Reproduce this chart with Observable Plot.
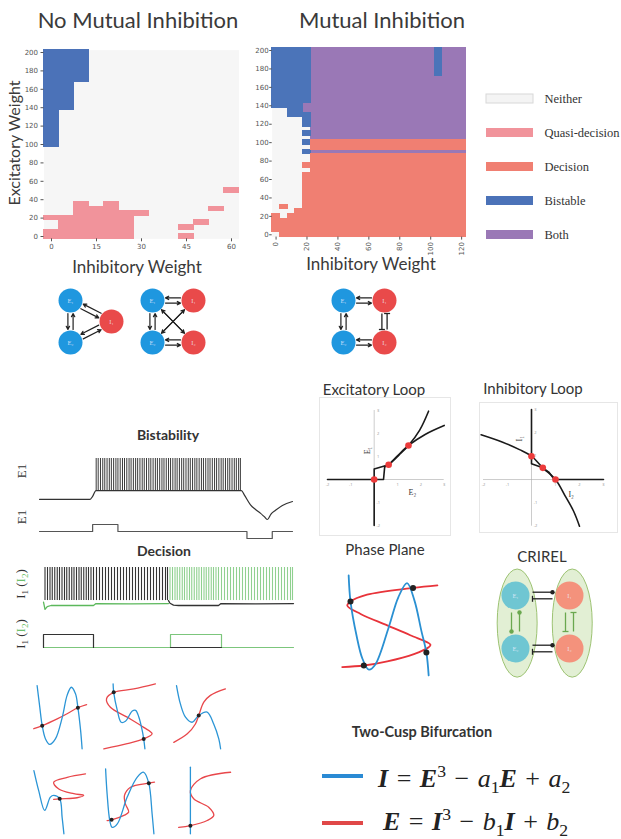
<!DOCTYPE html>
<html><head><meta charset="utf-8">
<script src="https://cdn.jsdelivr.net/npm/d3@7"></script>
<script src="https://cdn.jsdelivr.net/npm/@observablehq/plot@0.6"></script>
<style>
body{margin:0;background:#fff;}
#root{position:relative;width:621px;height:839px;overflow:hidden;font-family:Lato,"Open Sans",sans-serif;color:#333;}
.t{position:absolute;white-space:nowrap;line-height:1;transform:translate(-50%,-50%);}
.t.rot{transform:translate(-50%,-50%) rotate(-90deg);}
.t.l{transform:translate(0,-50%);}
.eq{font-family:"Liberation Serif",serif;color:#222;}
.eq sup,.eq sub{font-size:0.68em;line-height:0;}
</style></head><body><div id="root"></div>
<script>
// ---------------- DATA ----------------
// heatmaps: runs are [colFrom, colTo, rowFrom, rowTo] (weights, step 5)
const excitTicks = [0,20,40,60,80,100,120,140,160,180,200];
const inhibTicksNoMI = [0,15,30,45,60];
const inhibTicksMI = [0,20,40,60,80,100,120];
const noMI_bistable = [[0,0,100,200],[5,5,140,200],[10,10,170,200]];
const noMI_quasi = [[0,0,0,5],[0,0,20,20],[5,5,0,20],[10,10,0,35],[15,15,0,30],[20,20,0,35],[25,25,0,25],[30,30,25,25],[45,45,0,0],[45,45,10,10],[50,50,15,15],[55,55,30,30],[60,60,50,50]];
const MI_both = [[25,120,105,200],[25,120,90,90],[20,20,135,140]];
const MI_bistable = [[0,0,140,200],[5,5,140,200],[10,15,130,200],[20,20,145,200],[20,20,120,130],[20,20,110,110],[20,20,100,100],[20,20,90,90],[105,105,175,200]];
const MI_decision = [[25,120,0,85],[25,120,95,100],[20,20,0,65],[20,20,75,75],[15,15,0,25],[10,10,0,20],[5,5,0,15],[5,5,30,30],[0,0,5,20]];
const legendNames = ["Neither","Quasi-decision","Decision","Bistable","Both"];
const legendFills = ["#f4f4f4","#f1939b","#f07f72","#4b72b8","#9a78b6"];

// network schematics: [id, gridX, gridY, kind]
const net1Nodes = [["E1",0,0,"E"],["E2",0,1,"E"],["I1",1,0.5,"I"]];
const net1Edges = [["E1","E2",2.6,"arrow"],["E2","E1",2.6,"arrow"],["E1","I1",2.6,"arrow"],["I1","E1",2.6,"arrow"],["E2","I1",2.6,"arrow"],["I1","E2",2.6,"arrow"]];
const net2Nodes = [["E1",0,0,"E"],["I1",1,0,"I"],["E2",0,1,"E"],["I2",1,1,"I"]];
const net2Edges = [["E1","E2",2.6,"arrow"],["E2","E1",2.6,"arrow"],["E1","I1",2.6,"arrow"],["I1","E1",2.6,"arrow"],["E2","I2",2.6,"arrow"],["I2","E2",2.6,"arrow"],["E1","I2",0,"arrow"],["I2","E1",0,"arrow"],["E2","I1",0,"arrow"],["I1","E2",0,"arrow"]];
const net3Nodes = [["E1",0,0,"E"],["I1",1,0,"I"],["E2",0,1,"E"],["I2",1,1,"I"]];
const net3Edges = [["E1","E2",2.6,"arrow"],["E2","E1",2.6,"arrow"],["E1","I1",2.6,"arrow"],["I1","E1",2.6,"arrow"],["E2","I2",2.6,"arrow"],["I2","E2",2.6,"arrow"],["I1","I2",2.6,"bar"],["I2","I1",2.6,"bar"]];
const crirelNodes = [["E1",0,0,"E"],["I1",1,0,"I"],["E2",0,1,"E"],["I2",1,1,"I"]];
const crirelEdges = [["E1","I1",-3.3,"dot"],["I1","E1",-3.3,"bar"],["E2","I2",-3.3,"dot"],["I2","E2",-3.3,"bar"],["E1","E2",4,"dot","#6aa84f"],["E2","E1",4,"dot","#6aa84f"],["I1","I2",4,"bar","#6aa84f"],["I2","I1",4,"bar","#6aa84f"]];
const crirelEllipses = [[-0.33,0.41,-0.49,1.55],[0.69,1.43,-0.49,1.55]];

// Bistability traces (time 0-100, arbitrary voltage units)
const bistTraceT = [0,20,21,22.3,79.8,81,83.4,85.5,87.4,89,90.1,91.5,93.3,96,100];
const bistTraceV = [33,33,38,47.5,47.5,40,24,16,10,4,0,9,15,23,29.5];
const bistSpikes = [22.4,23.2,24.1,25.0,25.8,26.7,27.6,28.4,29.3,30.2,31.0,31.9,32.8,33.6,34.5,35.4,36.2,37.1,38.0,38.8,39.7,40.6,41.4,42.3,43.2,44.0,44.9,45.8,46.6,47.5,48.4,49.2,50.1,51.0,51.8,52.7,53.6,54.4,55.3,56.2,57.0,57.9,58.8,59.6,60.5,61.4,62.2,63.1,64.0,64.8,65.7,66.6,67.4,68.3,69.2,70.0,70.9,71.8,72.6,73.5,74.4,75.2,76.1,77.0,77.8,78.7,79.4];
const bistStimT = [0,21,31,82,92,100];
const bistStimV = [0,1,0,-1,0,0];

// Decision traces
const decBlackSpikes = [0.6,1.6,2.6,3.5,4.5,5.5,6.4,7.4,8.4,9.3,10.3,11.3,12.2,13.2,14.2,15.1,16.1,17.1,18.0,19.0,20.0,21.2,22.4,23.6,24.8,26.0,27.2,28.4,29.6,30.8,32.0,33.2,34.4,35.6,36.8,38.0,39.2,40.4,41.6,42.8,44.0,45.2,46.4,47.6,48.8,49.6];
const decGreenSpikes = [50.6,51.6,52.6,53.5,54.5,55.5,56.4,57.4,58.4,59.3,60.3,61.3,62.2,63.2,64.2,65.1,66.1,67.1,68.0,69.0,70.0,71.2,72.4,73.6,74.8,76.0,77.2,78.4,79.6,80.8,82.0,83.2,84.4,85.6,86.8,88.0,89.2,90.4,91.6,92.8,94.0,95.2,96.4,97.6,98.8,99.6];
const greenLowT = [0,0.6,1.5,3,20,21,35,50];
const greenLowV = [9,-10,-3,0,0,5,4.5,5];
const blackLowT = [50,50.6,52,54,70,71,85,100];
const blackLowV = [13,6,1,0,0,5,4.5,5];
const decStimBlackT = [0,0,20,20];
const decStimBlackV = [0,1,1,0];
const decStimBlackBaseT = [50.8,71.2];
const decStimGreenT = [0,50.8,50.8,71.2,71.2,100];
const decStimGreenV = [0,0,1,1,0,0];

// Loop phase portraits
const loopTicks = [-2,-1,1,2,3];
const exLoopA1 = [[-2,0],[0,0],[0,0.46],[0.62,0.64]];
const exLoopA2 = [[0.62,0.64],[1.05,1.05],[1.47,1.48],[1.95,2.15],[2.33,2.97]];
const exLoopB1 = [[0,-2],[0,0],[0.4,0],[0.45,0.55]];
const exLoopB2 = [[0.45,0.55],[0.62,0.64],[1.0,1.03],[1.47,1.48],[2.2,1.97],[3,2.35]];
const exDots = [[0,0],[0.62,0.64],[1.47,1.48]];
const inLoopA = [[-2.1,1.92],[-1.2,1.6],[-0.5,1.28],[0,1],[0.47,0.5],[1,0],[1.4,-0.7],[1.75,-1.35],[2.0,-2.0]];
const inLoopB = [[0,3],[0,0.68],[0.47,0.5],[0.72,0.32],[0.95,0],[3,0]];
const inDots = [[0,1],[0.47,0.5],[1,0]];

// Phase plane
const ppBlue = [[-0.91,1.01],[-0.87,0.51],[-0.74,-0.14],[-0.61,-0.59],[-0.47,-0.80],[-0.33,-0.70],[-0.04,0.01],[0.17,0.59],[0.36,0.86],[0.52,0.53],[0.67,-0.05],[0.78,-0.47],[0.83,-0.91]];
const ppRed = [[-1.05,-0.75],[-0.58,-0.72],[-0.07,-0.64],[0.51,-0.50],[0.83,-0.37],[0.87,-0.32],[0.43,-0.14],[-0.07,0.05],[-0.65,0.27],[-0.94,0.43],[-0.87,0.51],[-0.51,0.64],[0.49,0.77],[1.02,0.82]];
const ppDots = [[-0.87,0.51],[0.49,0.77],[0.78,-0.47],[-0.58,-0.72]];

// Two-cusp nullcline panels
const nc1Blue = [[-0.78,0.94],[-0.69,0.30],[-0.61,-0.24],[-0.50,-0.63],[-0.36,-0.79],[-0.17,-0.63],[0.06,0.01],[0.22,0.65],[0.36,0.89],[0.50,0.70],[0.58,0.29],[0.67,-0.38],[0.72,-0.92]];
const nc1Red = [[-0.89,-0.33],[-0.61,-0.24],[-0.11,-0.04],[0.22,0.11],[0.58,0.29],[0.87,0.38]];
const nc1Dots = [[-0.61,-0.24],[0.58,0.29]];
const nc2Blue = [[-0.58,0.99],[-0.56,0.74],[-0.44,0.21],[-0.31,-0.14],[-0.17,-0.11],[0.06,0.19],[0.17,0.21],[0.28,0.01],[0.39,-0.38],[0.44,-0.63],[0.48,-0.92]];
const nc2Red = [[0.83,0.99],[0.11,0.84],[-0.56,0.74],[-0.80,0.55],[-0.67,0.30],[-0.11,0.01],[0.44,-0.29],[0.72,-0.48],[0.44,-0.63],[-0.11,-0.77],[-0.89,-0.92]];
const nc2Dots = [[-0.56,0.74],[0.44,-0.63]];
const nc3Blue = [[-0.80,0.94],[-0.67,0.40],[-0.50,0.01],[-0.28,-0.14],[-0.06,0.06],[0.22,0.16],[0.44,-0.19],[0.61,-0.63],[0.67,-0.92]];
const nc3Red = [[-0.89,-0.73],[-0.44,-0.48],[-0.17,-0.19],[-0.06,0.06],[0.11,0.45],[0.33,0.65],[0.83,0.84]];
const nc3Dots = [[-0.06,0.06]];
const nc4Blue = [[-0.82,0.91],[-0.66,0.32],[-0.46,-0.26],[-0.27,0.13],[-0.16,0.18],[0.04,0.08],[0.12,-0.46],[0.18,-0.95]];
const nc4Red = [[0.90,0.81],[0.29,0.71],[-0.16,0.57],[0.01,0.37],[0.51,0.23],[0.84,0.18],[0.62,0.11],[0.04,0.08],[-0.16,0.06]];
const nc4Dots = [[0.04,0.08]];
const nc5Blue = [[-0.83,0.96],[-0.78,0.23],[-0.69,-0.56],[-0.61,-0.76],[-0.44,-0.66],[-0.11,0.13],[0.22,0.71],[0.44,0.86],[0.61,0.54],[0.72,-0.36],[0.78,-0.95]];
const nc5Red = [[-0.78,-0.56],[-0.63,-0.54],[-0.22,-0.41],[-0.06,-0.31],[-0.17,-0.07],[-0.2,0.18],[0,0.42],[0.61,0.54],[0.8,0.57]];
const nc5Dots = [[-0.63,-0.54],[0.61,0.54]];
const nc6Blue = [[-0.27,1.01],[-0.27,-0.95]];
const nc6Red = [[-0.66,-0.76],[-0.27,-0.71],[0.29,-0.56],[0.51,-0.41],[0.34,-0.17],[-0.16,0.08],[-0.27,0.32],[0.07,0.67],[1.07,0.86]];
const nc6Dots = [[-0.27,-0.71]];

// ---------------- HELPERS ----------------
const root = document.getElementById("root");
const BASE = {background: "transparent", overflow: "visible"};
function put(opts, left, top) {
  const svg = Plot.plot({...opts, style: {...BASE, ...(opts.style || {})}});
  svg.style.position = "absolute"; svg.style.left = left + "px"; svg.style.top = top + "px";
  root.appendChild(svg);
  return svg;
}
function txt(html, x, y, css = {}, cls = "") {
  const d = document.createElement("div");
  d.className = "t " + cls; d.innerHTML = html;
  d.style.left = x + "px"; d.style.top = y + "px";
  Object.assign(d.style, css);
  root.appendChild(d);
}
const px = d => d[0], py = d => d[1];

// ---------------- HEATMAPS ----------------
function heatmap(layers, xDomain, xTicks, o) {
  return {
    width: o.w, height: o.h, marginLeft: o.ml, marginRight: o.mr, marginTop: o.mt, marginBottom: o.mb,
    x: {domain: xDomain}, y: {domain: [-2.5, 202.5]},
    style: {fontFamily: "DejaVu Sans, sans-serif", color: "#555"},
    marks: [
      Plot.frame({fill: "#f6f6f6", stroke: null}),
      ...layers.map(([runs, fill]) => Plot.rect(runs, {x1: d => d[0] - 2.5, x2: d => d[1] + 2.5, y1: d => d[2] - 2.5, y2: d => d[3] + 2.5, fill, stroke: fill, strokeWidth: 1, shapeRendering: "crispEdges"})),
      Plot.axisY({ticks: excitTicks, tickSize: o.yts, tickPadding: o.ytp, fontSize: 7, label: null}),
      Plot.axisX({ticks: xTicks, tickSize: 3, tickPadding: 2, fontSize: 7, label: null, tickRotate: o.rot || 0})
    ]
  };
}
put(heatmap([[noMI_quasi, "#f1939b"], [noMI_bistable, "#4b72b8"]], [-2.5, 62.5], inhibTicksNoMI,
  {w: 245, h: 250, ml: 43.5, mr: 6.5, mt: 9.7, mb: 51.7, yts: 3, ytp: 3}), 0, 40);
put(heatmap([[MI_both, "#9a78b6"], [MI_bistable, "#4b74b9"], [MI_decision, "#f07f72"]], [-2.5, 122.5], inhibTicksMI,
  {w: 225, h: 250, ml: 26.7, mr: 5, mt: 7.7, mb: 53.4, yts: 2.5, ytp: 1, rot: -90}), 245, 40);

txt("No Mutual Inhibition", 138, 20, {fontSize: "22px", color: "#3a3a3a"});
txt("Mutual Inhibition", 382, 20, {fontSize: "22px", color: "#3a3a3a"});
txt("Excitatory Weight", 14, 143, {fontSize: "16px", color: "#3a3a3a"}, "rot");
txt("Inhibitory Weight", 137, 266, {fontSize: "17px", color: "#3a3a3a"});
txt("Inhibitory Weight", 371, 263, {fontSize: "17px", color: "#3a3a3a"});

// legend
put({
  width: 141, height: 170, marginLeft: 6, marginRight: 88, marginTop: 11.5, marginBottom: 9.5,
  x: {domain: [0, 1], axis: null},
  y: {type: "band", domain: legendNames, paddingInner: 0.74, paddingOuter: 0, axis: null},
  color: {domain: legendNames, range: legendFills},
  marks: [
    Plot.barX(legendNames, {x1: 0, x2: 1, y: d => d, fill: d => d, stroke: d => d === "Neither" ? "#d8d8d8" : "none"}),
    Plot.text(legendNames, {x: 1, y: d => d, dx: 11, text: d => d, textAnchor: "start", fontFamily: "Liberation Serif, serif", fontSize: 12.5, fill: "#333"})
  ]
}, 480, 80);

// ---------------- NETWORK DIAGRAMS ----------------
function network(nodes, edges, c) {
  const P = Object.fromEntries(nodes.map(n => [n[0], n]));
  const marks = [];
  for (const [a, b, off, type, color] of edges) {
    const A = P[a], B = P[b];
    const qx = (B[1] - A[1]) * c.ux, qy = (B[2] - A[2]) * c.uy, L = Math.hypot(qx, qy);
    const dx = -qy / L * off, dy = qx / L * off;
    const stroke = color || "#222";
    if (type === "arrow") {
      marks.push(Plot.arrow([[A, B]], {x1: d => d[0][1], y1: d => d[0][2], x2: d => d[1][1], y2: d => d[1][2], dx, dy, stroke, strokeWidth: 1.2, headLength: 4.5, headAngle: 55, insetStart: c.inset, insetEnd: c.inset}));
    } else {
      const fx = B[1] - A[1], fy = B[2] - A[2], t0 = c.inset / L, t1 = 1 - c.inset / L;
      const s = [A[1] + fx * t0, A[2] + fy * t0], e = [A[1] + fx * t1, A[2] + fy * t1];
      marks.push(Plot.link([[s, e]], {x1: d => d[0][0], y1: d => d[0][1], x2: d => d[1][0], y2: d => d[1][1], dx, dy, stroke, strokeWidth: 1.3}));
      if (type === "dot") marks.push(Plot.dot([e], {x: px, y: py, dx, dy, r: 2.2, fill: stroke}));
      else {
        const bx = -qy / L * 3 / c.ux, by = qx / L * 3 / c.uy;
        marks.push(Plot.link([e], {x1: d => d[0] - bx, y1: d => d[1] - by, x2: d => d[0] + bx, y2: d => d[1] + by, dx, dy, stroke, strokeWidth: 1.3}));
      }
    }
  }
  const sub = id => id[0] + (id[1] === "1" ? "\u2081" : "\u2082");
  marks.push(Plot.dot(nodes.filter(n => n[3] === "E"), {x: d => d[1], y: d => d[2], r: c.r, fill: c.eFill}));
  marks.push(Plot.dot(nodes.filter(n => n[3] === "I"), {x: d => d[1], y: d => d[2], r: c.r, fill: c.iFill}));
  marks.push(Plot.text(nodes, {x: d => d[1], y: d => d[2], text: d => sub(d[0]), fill: "#eef", fillOpacity: 0.8, fontSize: 6.5, fontFamily: "Liberation Serif, serif"}));
  return {
    width: c.w, height: c.h, margin: 0,
    x: {domain: [0, 1], range: c.xr, axis: null}, y: {domain: [0, 1], range: c.yr, axis: null},
    marks: [...(c.pre || []), ...marks]
  };
}
const netCfg = {ux: 41, uy: 42, xr: [18, 59], yr: [17, 59], w: 75, h: 80, r: 12, inset: 13, eFill: "#1f97df", iFill: "#e94a4a"};
put(network(net1Nodes, net1Edges, netCfg), 52, 283);
put(network(net2Nodes, net2Edges, netCfg), 134, 283);
put(network(net3Nodes, net3Edges, netCfg), 325, 283);

// ---------------- TRACES ----------------
txt("Bistability", 168, 435, {fontSize: "14px", fontWeight: "bold", color: "#333"});
txt("E1", 21, 471, {fontSize: "13px", fontFamily: "Liberation Serif, serif", color: "#333"}, "rot");
txt("E1", 21, 517, {fontSize: "13px", fontFamily: "Liberation Serif, serif", color: "#333"}, "rot");
put({
  width: 260, height: 72, marginLeft: 3, marginRight: 4, marginTop: 6, marginBottom: 5,
  x: {domain: [0, 100], axis: null}, y: {domain: [0, 100], axis: null},
  marks: [
    Plot.ruleX(bistSpikes, {x: d => d, y1: 47.5, y2: 100, stroke: "#3a3a3a", strokeWidth: 1}),
    Plot.line(bistTraceT, {x: d => d, y: (d, i) => bistTraceV[i], stroke: "#333", strokeWidth: 1.2, curve: "monotone-x"})
  ]
}, 36, 452);
put({
  width: 260, height: 25, marginLeft: 3, marginRight: 4, marginTop: 6, marginBottom: 5,
  x: {domain: [0, 100], axis: null}, y: {domain: [-1, 1], axis: null},
  marks: [Plot.line(bistStimT, {x: d => d, y: (d, i) => bistStimV[i], stroke: "#555", strokeWidth: 1.2, curve: "step-after"})]
}, 36, 518);

txt("Decision", 164, 551, {fontSize: "14px", fontWeight: "bold", color: "#333"});
const decLab = 'I<sub style="font-size:0.7em">1</sub> (<span style="color:#6cbf6c">I<sub style="font-size:0.7em">2</sub></span>)';
txt(decLab, 22, 584, {fontSize: "13px", fontFamily: "Liberation Serif, serif", color: "#333"}, "rot");
txt(decLab, 22, 634, {fontSize: "13px", fontFamily: "Liberation Serif, serif", color: "#333"}, "rot");
put({
  width: 256, height: 52, marginLeft: 3, marginRight: 3, marginTop: 5, marginBottom: 3.3,
  x: {domain: [0, 100], axis: null}, y: {domain: [-15, 100], axis: null},
  marks: [
    Plot.ruleX(decBlackSpikes, {x: d => d, y1: 13, y2: 100, stroke: "#333", strokeWidth: 1.1}),
    Plot.ruleX(decGreenSpikes, {x: d => d, y1: 13, y2: 100, stroke: "#8fd08f", strokeWidth: 1.1}),
    Plot.line(greenLowT, {x: d => d, y: (d, i) => greenLowV[i], stroke: "#5cb85c", strokeWidth: 1.3}),
    Plot.line(blackLowT, {x: d => d, y: (d, i) => blackLowV[i], stroke: "#333", strokeWidth: 1.3})
  ]
}, 40, 562);
put({
  width: 256, height: 24, marginLeft: 3, marginRight: 3, marginTop: 6, marginBottom: 5,
  x: {domain: [0, 100], axis: null}, y: {domain: [0, 1], axis: null},
  marks: [
    Plot.line(decStimGreenT, {x: d => d, y: (d, i) => decStimGreenV[i], stroke: "#7cc67c", strokeWidth: 1.2}),
    Plot.line(decStimBlackT, {x: d => d, y: (d, i) => decStimBlackV[i], stroke: "#333", strokeWidth: 1.2}),
    Plot.line(decStimBlackBaseT, {x: d => d, y: 0, stroke: "#333", strokeWidth: 1.2})
  ]
}, 40, 628);

// ---------------- LOOPS ----------------
function loopMarks(lines, dots, labels) {
  return [
    Plot.ruleY([0], {stroke: "#aaa", strokeWidth: 0.6}),
    Plot.ruleX([0], {stroke: "#aaa", strokeWidth: 0.6}),
    Plot.text(loopTicks, {x: d => d, y: 0, dy: 5, text: d => d, fontSize: 4, fill: "#999"}),
    Plot.text(loopTicks, {x: 0, y: d => d, dx: 4, text: d => d, fontSize: 4, fill: "#999"}),
    ...lines.map(([data, curve]) => Plot.line(data, {x: px, y: py, stroke: "#1a1a1a", strokeWidth: 1.6, curve})),
    Plot.dot(dots, {x: px, y: py, r: 3.3, fill: "#ec3b3b"}),
    ...labels.map(([t, x, y, rot]) => Plot.text([t], {x, y, text: d => d, rotate: rot, fontSize: 8, fontFamily: "Liberation Serif, serif", fill: "#333"}))
  ];
}
txt("Excitatory Loop", 374, 389, {fontSize: "15px", color: "#333"});
txt("Inhibitory Loop", 533, 388, {fontSize: "15px", color: "#333"});
put({
  width: 130, height: 137, marginLeft: 7, marginRight: 6.3, marginTop: 12, marginBottom: 10,
  x: {domain: [-2, 3], axis: null}, y: {domain: [-2, 3], axis: null},
  style: {border: "1px solid #e6e6e6"},
  marks: loopMarks([[exLoopA1, "linear"], [exLoopA2, "catmull-rom"], [exLoopB1, "linear"], [exLoopB2, "catmull-rom"]], exDots,
    [["E\u2081", -0.3, 1.26, -90], ["E\u2082", 1.64, -0.57, 0]])
}, 319, 397);
put({
  width: 137, height: 129, marginLeft: 3, marginRight: 14, marginTop: 6, marginBottom: 6.3,
  x: {domain: [-2, 3], axis: null}, y: {domain: [-2, 3], axis: null},
  style: {border: "1px solid #e6e6e6"},
  marks: loopMarks([[inLoopA, "catmull-rom"], [inLoopB, "linear"]], inDots,
    [["I\u2081", -0.5, 1.75, -90], ["I\u2082", 1.65, -0.62, 0]])
}, 479, 402);

// ---------------- PHASE PLANE & CRIREL ----------------
txt("Phase Plane", 385, 549, {fontSize: "15px", color: "#333"});
txt("CRIREL", 542, 556, {fontSize: "15px", color: "#333"});
put({
  width: 110, height: 125, margin: 0,
  x: {domain: [-1.196, 1.196], axis: null}, y: {domain: [-1.2, 1.2], axis: null},
  marks: [
    Plot.line(ppRed, {x: px, y: py, stroke: "#e8333a", strokeWidth: 1.8, curve: "catmull-rom"}),
    Plot.line(ppBlue, {x: px, y: py, stroke: "#2a90d2", strokeWidth: 1.8, curve: "catmull-rom"}),
    Plot.dot(ppDots, {x: px, y: py, r: 3, fill: "#222"})
  ]
}, 335, 565);
put(network(crirelNodes, crirelEdges, {
  ux: 54, uy: 53, xr: [25, 79], yr: [33, 86], w: 110, h: 125, r: 14, inset: 17, eFill: "#6fc6d2", iFill: "#f4927c",
  pre: [Plot.rect(crirelEllipses, {x1: d => d[0], x2: d => d[1], y1: d => d[2], y2: d => d[3], rx: 20, ry: 54, fill: "#e2efd4", stroke: "#9dc373", strokeWidth: 1})]
}), 490, 562);

// ---------------- TWO-CUSP PANELS ----------------
const ncPanels = [[nc1Blue, nc1Red, nc1Dots, 30, 683], [nc2Blue, nc2Red, nc2Dots, 100, 683], [nc3Blue, nc3Red, nc3Dots, 170, 683],
                  [nc4Blue, nc4Red, nc4Dots, 28, 767], [nc5Blue, nc5Red, nc5Dots, 100, 767], [nc6Blue, nc6Red, nc6Dots, 168, 767]];
for (const [b, r, dts, left, top] of ncPanels) {
  put({
    width: 60, height: 68, margin: 0,
    x: {domain: [-1, 1], axis: null}, y: {domain: [-1, 1], axis: null},
    marks: [
      Plot.line(r, {x: px, y: py, stroke: "#e8474b", strokeWidth: 1.3, curve: "catmull-rom"}),
      Plot.line(b, {x: px, y: py, stroke: "#2b95d6", strokeWidth: 1.3, curve: "catmull-rom"}),
      Plot.dot(dts, {x: px, y: py, r: 2, fill: "#222"})
    ]
  }, left, top);
}

txt("Two-Cusp Bifurcation", 422, 732, {fontSize: "14.5px", fontWeight: "bold", color: "#333"});
const sw = (color, y) => { const d = document.createElement("div"); Object.assign(d.style, {position: "absolute", left: "322px", top: (y - 2) + "px", width: "41px", height: "4px", background: color}); root.appendChild(d); };
sw("#2a8ad4", 776); sw("#e04848", 823);
txt('<b><i>I</i></b> = <b><i>E</i></b><sup>3</sup> \u2212 <i>a</i><sub>1</sub><b><i>E</i></b> + <i>a</i><sub>2</sub>', 378, 779, {fontSize: "26px", wordSpacing: "2px"}, "l eq");
txt('<b><i>E</i></b> = <b><i>I</i></b><sup>3</sup> \u2212 <i>b</i><sub>1</sub><b><i>I</i></b> + <i>b</i><sub>2</sub>', 383, 822, {fontSize: "26px", wordSpacing: "2px"}, "l eq");
</script></body></html>
